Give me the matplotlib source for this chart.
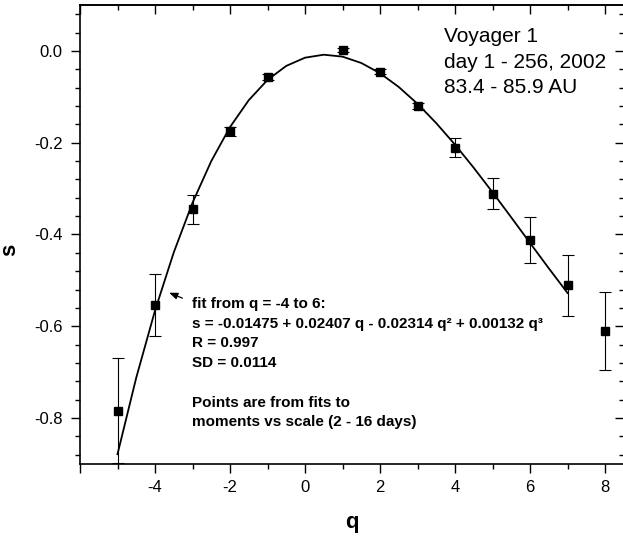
#!/usr/bin/env python3
"""Voyager 1 scaling exponents s(q) with cubic fit."""
import matplotlib
matplotlib.use("Agg")
import matplotlib.pyplot as plt
from matplotlib.ticker import MultipleLocator

plt.rcParams["font.family"] = ["Liberation Sans", "DejaVu Sans"]
plt.rcParams["axes.unicode_minus"] = False

# measured points
q = [-5, -4, -3, -2, -1, 1, 2, 3, 4, 5, 6, 7, 8]
s = [-0.784, -0.554, -0.345, -0.175, -0.057, 0.002, -0.045, -0.120,
     -0.211, -0.311, -0.412, -0.511, -0.610]
s_err = [0.114, 0.067, 0.032, 0.010, 0.006, 0.004, 0.005, 0.006,
         0.021, 0.034, 0.050, 0.066, 0.085]

# fitted cubic, as drawn (coarse polyline)
q_fit = [-5, -4.5, -4, -3.5, -3, -2.5, -2, -1.5, -1, -0.5, 0, 0.5, 1,
         1.5, 2, 2.5, 3, 3.5, 4, 4.5, 5, 5.5, 6, 6.5, 7]
s_fit = [-0.8786, -0.7119, -0.5658, -0.4391, -0.3309, -0.2402, -0.1660,
         -0.1074, -0.0633, -0.0327, -0.0148, -0.0083, -0.0125, -0.0263,
         -0.0486, -0.0786, -0.1152, -0.1574, -0.2042, -0.2547, -0.3079,
         -0.3627, -0.4183, -0.4735, -0.5274]

fig = plt.figure(figsize=(6.23, 5.36), dpi=100)
ax = fig.add_axes([80 / 623, 72 / 536, 543.75 / 623, 459 / 536])

ax.plot(q_fit, s_fit, color="black", lw=1.3, zorder=2)
ax.errorbar(q, s, yerr=s_err, fmt="s", color="black", ms=6.3, elinewidth=0.8,
            capsize=4, capthick=0.8, zorder=3)

ax.set_xlim(-6, 8.5)
ax.set_ylim(-0.9, 0.1)
ax.xaxis.set_major_locator(MultipleLocator(2))
ax.xaxis.set_minor_locator(MultipleLocator(1))
ax.yaxis.set_major_locator(MultipleLocator(0.2))
ax.yaxis.set_minor_locator(MultipleLocator(0.04))
ax.xaxis.set_major_formatter(lambda v, p: "" if v < -5 else f"{v:.0f}")
ax.yaxis.set_major_formatter(lambda v, p: f"{v:.1f}".replace("-0.0", "0.0"))

for sp in ax.spines.values():
    sp.set_linewidth(1.2)
ax.tick_params(which="both", direction="out", width=1.0, labelsize=12)
ax.tick_params(axis="y", pad=6)
ax.tick_params(axis="x", pad=5)
ax.tick_params(which="major", length=6.5)
ax.tick_params(which="minor", length=3.5)

# mirrored ticks on top/right pointing into the plot, no labels
top = ax.secondary_xaxis("top")
top.xaxis.set_major_locator(MultipleLocator(2))
top.xaxis.set_minor_locator(MultipleLocator(1))
right = ax.secondary_yaxis("right")
right.yaxis.set_major_locator(MultipleLocator(0.2))
right.yaxis.set_minor_locator(MultipleLocator(0.04))
for sec in (top, right):
    sec.tick_params(which="both", direction="in", width=1.0,
                    labeltop=False, labelright=False)
    sec.tick_params(which="major", length=6.5)
    sec.tick_params(which="minor", length=3.5)
    for sp in sec.spines.values():
        sp.set_linewidth(1.2)

ax.set_xlabel("q", fontsize=16, fontweight="bold", labelpad=12)
ax.set_ylabel("s", fontsize=16, fontweight="bold")
ax.yaxis.set_label_coords(-0.11, 0.466)

ax.text(3.72, 0.052, "Voyager 1\nday 1 - 256, 2002\n83.4 - 85.9 AU",
        fontsize=15, va="top", ha="left", linespacing=1.44)

ax.annotate("", xy=(-3.69, -0.5245), xytext=(-3.2, -0.541),
            arrowprops=dict(arrowstyle="-|>,head_length=0.5,head_width=0.2",
                            color="black", lw=0.9))
ax.text(-3.02, -0.536,
        "fit from q = -4 to 6:\n"
        "s = -0.01475 + 0.02407 q - 0.02314 q\u00b2 + 0.00132 q\u00b3\n"
        "R = 0.997\nSD = 0.0114\n\n"
        "Points are from fits to\nmoments vs scale (2 - 16 days)",
        fontsize=11, fontweight="bold", va="top", ha="left",
        linespacing=1.52)

fig.savefig("out.png", dpi=100)
